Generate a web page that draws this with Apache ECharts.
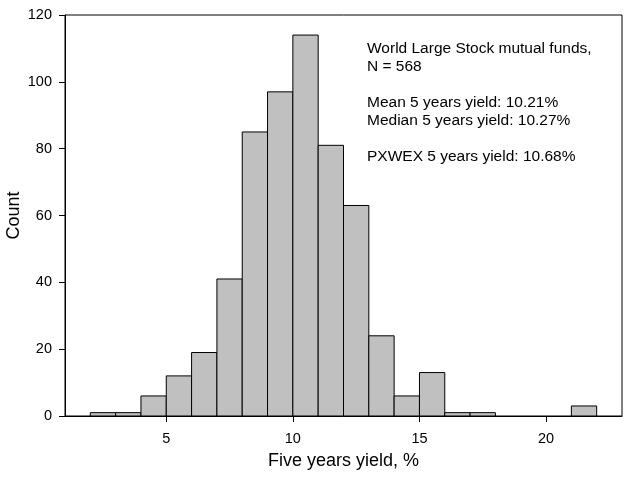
<!DOCTYPE html>
<html>
<head>
<meta charset="utf-8">
<script src="https://cdn.jsdelivr.net/npm/echarts@6/dist/echarts.min.js"></script>
<style>
html,body{margin:0;padding:0;background:#fff;}
#chart{width:640px;height:477px;}
</style>
</head>
<body>
<div id="chart"></div>
<script>
// Histogram bins (left edges, width 1) and counts
const binStarts = [2,3,4,5,6,7,8,9,10,11,12,13,14,15,16,17,18,19,20,21];
const binWidth = 1;
const counts = [1,1,6,12,19,41,85,97,114,81,63,24,6,13,1,1,0,0,0,3];
const xTicks = [5,10,15,20];
const yTicks = [0,20,40,60,80,100,120];
const annotationLines = [
  'World Large Stock mutual funds,',
  'N = 568',
  '',
  'Mean 5 years yield: 10.21%',
  'Median 5 years yield: 10.27%',
  '',
  'PXWEX 5 years yield: 10.68%'
];

const data = binStarts.map((s, i) => [s, s + binWidth, counts[i]]);
const FONT = '"Liberation Sans", Arial, sans-serif';

const chart = echarts.init(document.getElementById('chart'), null, {renderer: 'canvas'});
chart.setOption({
  animation: false,
  backgroundColor: '#fff',
  grid: {left: 65, right: 18, top: 15, bottom: 61, show: true, borderColor: '#000', borderWidth: 1,
         containLabel: false, outerBoundsMode: 'none'},
  xAxis: {
    type: 'value', min: 1, max: 23,
    name: 'Five years yield, %', nameLocation: 'middle', nameGap: 36, nameMoveOverlap: false,
    nameTextStyle: {fontFamily: FONT, fontSize: 18, color: '#000'},
    axisLine: {show: true, onZero: false, lineStyle: {color: '#000', width: 1}},
    axisTick: {show: true, inside: false, length: 6, customValues: xTicks, lineStyle: {color: '#000'}},
    axisLabel: {customValues: xTicks, fontFamily: FONT, fontSize: 14.5, color: '#000', margin: 15},
    splitLine: {show: false}
  },
  yAxis: {
    type: 'value', min: 0, max: 120, interval: 20,
    name: 'Count', nameLocation: 'middle', nameGap: 42, nameRotate: 90, nameMoveOverlap: false,
    nameTextStyle: {fontFamily: FONT, fontSize: 18, color: '#000'},
    axisLine: {show: true, lineStyle: {color: '#000', width: 1}},
    axisTick: {show: true, inside: false, length: 6, lineStyle: {color: '#000'}},
    axisLabel: {fontFamily: FONT, fontSize: 14.5, color: '#000', margin: 13,
      formatter: v => yTicks.includes(v) ? String(v) : ''},
    splitLine: {show: false}
  },
  graphic: [{
    type: 'text', left: 367, top: 40,
    style: {text: annotationLines.join('\n'), font: '15.5px ' + FONT, fill: '#000', lineHeight: 18}
  }],
  series: [{
    type: 'custom',
    data: data,
    encode: {x: [0, 1], y: 2},
    renderItem: function (params, api) {
      const x0 = api.value(0), x1 = api.value(1), c = api.value(2);
      if (c <= 0) return null;
      const p0 = api.coord([x0, 0]);
      const p1 = api.coord([x1, c]);
      return {
        type: 'rect',
        shape: {x: p0[0], y: p1[1], width: p1[0] - p0[0], height: p0[1] - p1[1]},
        style: {fill: '#c0c0c0', stroke: '#000', lineWidth: 1}
      };
    }
  }]
});
</script>
</body>
</html>
